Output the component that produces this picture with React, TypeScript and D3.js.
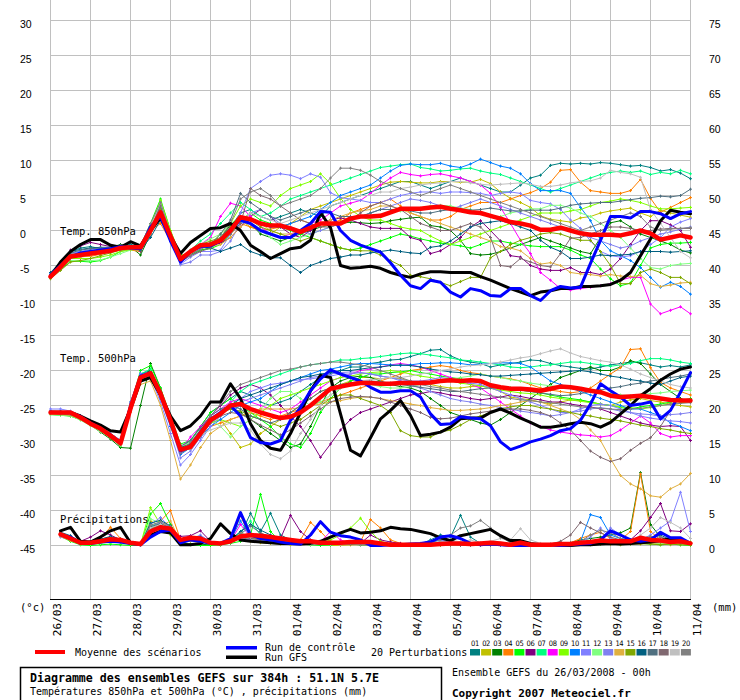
import { useEffect, useRef } from 'react';
import * as d3 from 'd3';

const W = 740;
const H = 700;

const DATES = ['26/03', '27/03', '28/03', '29/03', '30/03', '31/03', '01/04', '02/04', '03/04',
  '04/04', '05/04', '06/04', '07/04', '08/04', '09/04', '10/04', '11/04'];
const LEFT_TICKS = [30, 25, 20, 15, 10, 5, 0, -5, -10, -15, -20, -25, -30, -35, -40, -45];
const RIGHT_TICKS = [75, 70, 65, 60, 55, 50, 45, 40, 35, 30, 25, 20, 15, 10, 5, 0];
const MEMBER_LABELS = ['01', '02', '03', '04', '05', '06', '07', '08', '09', '10',
  '11', '12', '13', '14', '15', '16', '17', '18', '19', '20'];
const MEMBER_COLORS = ['#008080', '#c0c000', '#008000', '#ff8000', '#00ff00', '#800080', '#00ff80',
  '#ff00ff', '#80ff00', '#0080ff', '#8080ff', '#80ff80', '#8080f0', '#e0b040', '#80a800',
  '#006080', '#507080', '#806870', '#c0c0c0', '#808080'];

// ---- Temp 850 hPa, 6-hourly from 0h ----
const T850_MEAN = [-6.6, -5.2, -3.7, -3.5, -3.3, -3.1, -2.9, -2.5,
  -2.4, -2.4, 0, 2.6, -0.8, -4.1, -3.0, -2.1,
  -2.0, -1.4, 0, 1.9, 1.6, 1.0, 0.7, 0.7,
  0.3, -0.2, 0.4, 1.0, 1.0, 1.0, 1.7, 2.0,
  2.0, 2.1, 2.6, 3.1, 3.1, 3.1, 3.3, 3.4,
  3.1, 2.9, 2.6, 2.5, 2.1, 1.7, 1.2, 1.0,
  0.7, 0.1, 0.1, 0.4, 0, -0.4, -0.6, -0.6,
  -0.6, -0.7, -0.4, 0, -0.4, -1.3, -1.0, -0.7, -1.0];
const T850_CTRL = [-6.4, -5.0, -3.8, -3.2, -3.0, -2.8, -2.6, -2.3,
  -2.5, -2.6, 0.5, 2.0, -1.5, -4.5, -3.0, -2.3,
  -2.2, -1.5, 0.2, 1.5, 1.0, 0, -0.5, -1.0,
  -1.0, 0, 1.0, 2.7, 2.6, 0, -1.4, -2.1,
  -2.6, -3.1, -4.6, -6.4, -7.9, -8.3, -7.1, -7.4,
  -8.8, -9.5, -8.3, -8.6, -9.3, -9.4, -8.3, -8.3,
  -9.3, -10, -8.6, -8.0, -8.2, -8.1, -4.7, -1.4,
  2.0, 2.0, 1.8, 2.7, 2.7, 2.4, 1.7, 2.4, 2.7];
const T850_GFS = [-6.6, -4.5, -3.0, -2.0, -1.3, -1.3, -2.1, -2.4,
  -1.6, -2.2, 0, 1.8, -0.8, -3.3, -1.7, -0.7,
  0.3, 0.4, 1.0, 0, -2.1, -3.0, -4.0, -3.3,
  -2.6, -2.4, -1.4, 2.6, 0.4, -5.0, -5.4, -5.3,
  -5.1, -5.4, -6.0, -6.4, -6.7, -6.2, -5.9, -5.9,
  -6.0, -6.0, -6.0, -6.6, -7.1, -7.7, -8.3, -8.8,
  -9.3, -8.8, -8.6, -8.3, -8.3, -8.0, -8.0, -7.9,
  -7.7, -7.1, -6.0, -3.6, -1.2, 1.4, 2.9, 2.6, 2.4];
const T850_P01 = [-6.3, -4.8, -3.0, -2.5, -2.3, -2.6, -2.7, -2.2,
  -2.0, -2.3, 0.5, 3.0, -0.5, -3.8, -3.2, -2.2,
  -1.8, -1.0, 0.5, 2.5, 3.0, 2.0, 1.5, 2.0,
  2.5, 3.0, 2.5, 2.0, 3.5, 4.0, 4.5, 5.0,
  5.5, 6.0, 6.5, 7.0, 7.0, 6.5, 6.0, 6.5,
  7.0, 7.5, 7.0, 6.5, 6.0, 5.5, 5.5, 6.5,
  7.5, 7.9, 9.3, 9.6, 9.5, 9.6, 9.5, 9.7,
  9.6, 9.4, 9.2, 9.3, 9.0, 8.5, 8.7, 8.2, 7.4];
const T850_P02 = [-6.5, -5.0, -3.6, -3.6, -3.5, -3.2, -3.0, -2.6,
  -2.6, -2.8, 0.5, 3.5, -0.3, -4.3, -3.3, -2.4,
  -2.5, -1.5, 0, 1.5, 0.5, 0, -0.5, 0.5,
  1.0, 2.0, 3.0, 3.5, 4.0, 4.5, 5.0, 5.5,
  6.0, 6.5, 6.9, 7.0, 6.9, 6.8, 6.8, 7.0,
  7.0, 6.9, 6.9, 7.3, 6.7, 5.5, 4.6, 4.0,
  3.3, 2.1, 1.6, 1.4, 1.2, 1.8, 2.0, 2.5,
  2.8, 3.0, 3.2, 2.5, 2.0, 2.9, 2.5, 2.2, 1.9];
const T850_P03 = [-6.8, -5.5, -4.0, -3.6, -3.2, -2.8, -2.4, -2.0,
  -2.3, -3.5, -0.5, 2.0, -1.5, -4.0, -3.6, -2.8,
  -2.5, -1.0, 0.8, 2.0, 1.0, -0.5, -1.0, -1.5,
  -1.0, -0.5, 0, 0.5, 0.8, 1.0, 1.2, 1.1,
  1.0, 1.1, 1.4, 1.6, 1.8, 1.9, 0.7, 0.5,
  0, -1.4, -3.3, -3.5, -3.4, -3.0, -2.5, -2.0,
  -1.5, -1.0, -1.5, -2.0, -2.5, -3.0, -3.3, -1.0,
  1.1, 1.4, 0.5, -0.5, -1.0, -1.5, -2.0, -2.8, -3.2];
const T850_P04 = [-6.6, -5.3, -3.8, -3.7, -3.7, -3.4, -3.0, -2.8,
  -2.8, -3.0, 0, 1.0, -1.5, -4.5, -3.5, -2.3,
  -2.0, -1.8, -0.5, 1.0, 0.5, 0, 0.2, 0.5,
  1.0, 1.5, 1.0, 0.5, 1.0, 1.5, 2.5, 3.0,
  3.5, 4.0, 4.5, 3.5, 2.5, 2.0, 1.5, 1.5,
  2.0, 3.0, 3.5, 4.0, 4.0, 4.0, 4.5, 5.0,
  5.4, 6.0, 6.9, 8.6, 8.7, 6.9, 5.7, 5.5,
  5.3, 5.3, 5.7, 7.3, 4.6, 2.6, 3.3, 4.0, 4.7];
const T850_P05 = [-6.7, -5.6, -4.4, -4.4, -4.5, -4.3, -3.8, -3.0,
  -2.6, -2.2, 1.0, 4.5, 0, -4.0, -3.4, -2.8,
  -2.6, -2.0, -0.5, 1.5, 2.5, 1.5, 1.0, 0.5,
  0, -0.5, -1.0, -1.5, -2.0, -2.5, -2.8, -2.5,
  -2.0, -1.5, -1.0, -0.5, -0.8, -1.2, -1.5, -1.8,
  -2.0, -2.2, -2.5, -2.0, -1.5, -1.5, -1.8, -2.0,
  -2.2, -2.3, -2.3, -2.3, -2.8, -3.5, -4.0, -5.5,
  -6.9, -7.9, -7.5, -5.0, -2.5, -2.0, -1.8, -1.8, -1.7];
const T850_P06 = [-6.4, -4.6, -2.8, -2.2, -1.7, -2.0, -2.3, -2.2,
  -2.5, -3.0, -0.5, 2.5, -1.0, -4.5, -3.0, -2.5,
  -2.2, -1.8, -1.0, 0.5, 2.0, 3.0, 2.0, 0.5,
  -0.5, -1.0, 0, 1.0, 1.5, 1.8, 1.5, 1.0,
  0.5, 0.3, 0.3, 0.3, -1.0, -1.4, -3.3, -2.9,
  -2.0, -1.0, 0.5, 1.4, 0, -1.5, -3.6, -3.8,
  -5.0, -5.5, -5.7, -5.7, -5.3, -6.0, -6.0, -6.3,
  -5.5, -4.0, -2.0, 0, 1.4, 1.4, 0.8, 0, -2.4];
const T850_P07 = [-6.5, -5.0, -3.5, -3.3, -3.0, -3.0, -2.8, -2.5,
  -2.2, -2.0, 0.5, 4.0, -0.5, -3.8, -2.8, -1.5,
  -0.5, 1.0, 2.5, 4.0, 3.0, 2.0, 2.5, 3.5,
  4.5, 5.0, 5.5, 6.0, 6.5, 7.0, 7.5, 8.0,
  8.5, 9.0, 9.2, 9.4, 9.5, 9.0, 8.8, 8.5,
  8.6, 8.8, 8.9, 8.5, 8.2, 8.0, 7.5, 7.0,
  6.5, 6.0, 5.5, 6.0, 6.5, 7.0, 7.5, 8.0,
  8.3, 8.5, 8.3, 8.5, 8.0, 8.3, 8.1, 8.6, 8.1];
const T850_P08 = [-6.6, -5.2, -3.8, -3.5, -3.2, -3.0, -3.0, -2.7,
  -2.6, -2.5, 0, 2.5, -1.0, -4.0, -3.0, -2.0,
  -1.0, 2.0, 3.9, 3.5, 2.0, 0.5, -0.5, -1.0,
  -0.5, 0, 1.0, 1.5, 2.5, 3.5, 3.9, 4.3,
  5.3, 6.5, 7.5, 8.3, 8.0, 7.8, 8.0, 8.1,
  7.8, 7.5, 7.0, 6.5, 5.3, 3.3, 1.0, -1.4,
  -3.3, -6.0, -7.1, -8.3, -8.5, -8.3, -8.1, -7.9,
  -7.6, -7.1, -6.7, -6.7, -10.5, -11.9, -11.4, -10.9, -11.9];
const T850_P09 = [-6.7, -5.4, -4.0, -4.0, -4.0, -3.8, -3.5, -3.0,
  -2.8, -2.6, 0.5, 4.3, 0, -3.5, -3.3, -2.5,
  -2.0, -0.5, 1.0, 3.5, 4.5, 4.0, 3.5, 5.0,
  6.0, 6.5, 7.0, 8.1, 6.7, 4.6, 3.0, 2.0,
  1.5, 1.5, 1.0, 0.5, 0.2, 0, -0.8, -1.5,
  -2.0, -1.5, -1.0, -0.5, 0, 0.5, 1.0, 1.5,
  2.0, 2.5, 2.5, 2.5, 2.8, 3.0, 3.5, 4.0,
  4.2, 4.5, 4.3, 4.0, 3.5, 3.1, 3.1, 3.2, 3.3];
const T850_P10 = [-6.2, -4.7, -3.2, -3.0, -2.9, -2.8, -2.7, -2.5,
  -2.2, -2.0, 0.5, 3.0, -1.0, -4.6, -3.2, -2.3,
  -1.8, -1.2, 0, 1.0, 1.5, 1.0, 0.5, 0.5,
  1.0, 1.5, 2.0, 3.0, 4.0, 5.0, 5.5, 6.0,
  6.5, 7.5, 8.5, 9.3, 9.5, 9.4, 9.4, 9.6,
  9.2, 9.0, 9.5, 10.2, 9.7, 9.2, 8.9, 8.1,
  6.7, 5.7, 5.7, 5.7, 5.3, 3.3, 1.4, -1.4,
  -2.9, -3.6, -4.3, -5.3, -6.7, -8.1, -7.4, -8.0, -9.1];
const T850_P11 = [-6.4, -4.9, -3.3, -3.0, -2.7, -2.6, -2.6, -2.3,
  -2.4, -2.7, 0.5, 3.5, -0.5, -4.8, -3.8, -3.0,
  -3.0, -2.8, -0.5, 2.5, 6.0, 7.0, 7.9, 8.1,
  7.9, 7.4, 8.1, 7.6, 5.4, 4.7, 4.5, 4.3,
  4.0, 4.0, 4.5, 5.0, 5.3, 5.5, 5.5, 5.3,
  5.5, 5.5, 5.4, 5.3, 5.0, 5.3, 5.5, 5.3,
  4.3, 4.0, 3.8, 3.0, 1.5, 0.3, -1.5, -3.0,
  -3.6, -3.8, -3.6, -3.0, -2.0, -1.0, 0.5, 1.2, 1.7];
const T850_P12 = [-6.6, -5.4, -4.3, -4.3, -4.3, -4.2, -3.8, -3.3,
  -2.8, -2.5, 0, 3.5, -0.5, -4.2, -3.2, -2.0,
  -1.2, -0.5, 1.0, 2.0, 1.0, 0, -1.0, -2.0,
  -1.5, -1.0, -0.5, 0, 0.5, 1.0, 1.5, 2.0,
  2.5, 3.0, 3.0, 2.8, 3.0, 3.2, 3.5, 3.6,
  3.5, 3.2, 3.0, 2.5, 2.0, 2.0, 2.5, 2.8,
  3.1, 3.1, 3.6, 3.6, 3.2, 2.5, 2.0, 1.0,
  0, -1.0, -2.5, -4.0, -5.3, -5.5, -5.0, -4.8, -4.7];
const T850_P13 = [-6.5, -5.1, -3.6, -3.3, -3.0, -3.0, -2.9, -2.8,
  -2.6, -2.5, 0, 3.0, -0.8, -4.9, -4.5, -3.5,
  -3.5, -3.0, -1.5, 1.0, 2.5, 3.0, 2.0, 1.0,
  0.5, 0, -0.5, 0, 0.5, 1.0, 1.5, 2.0,
  2.5, 3.0, 3.5, 4.0, 4.5, 4.3, 4.0, 3.5,
  3.0, 3.5, 4.0, 4.5, 4.0, 3.5, 3.0, 2.5,
  2.0, 1.5, 1.0, 0.5, 0, -0.5, -1.0, -1.5,
  -2.0, -2.5, -2.2, -1.5, -1.0, -0.5, -0.2, 0.2, 0.5];
const T850_P14 = [-6.7, -5.3, -3.8, -3.8, -3.6, -3.3, -3.0, -2.8,
  -2.7, -2.9, -0.5, 2.0, -1.5, -4.2, -3.2, -2.5,
  -2.3, -2.0, -1.0, 0.5, 1.5, 1.0, 0, -0.5,
  -0.5, 0, 0.5, 1.0, 1.5, 2.0, 2.5, 2.8,
  3.0, 3.5, 3.5, 3.0, 2.5, 2.0, 1.5, 1.0,
  0.5, 0, -0.5, -1.0, -1.5, -2.3, -2.5, -2.9,
  -4.0, -4.8, -4.6, -5.0, -6.0, -6.2, -6.3, -6.5,
  -6.3, -6.5, -6.6, -6.4, -7.6, -8.0, -7.8, -7.5, -7.4];
const T850_P15 = [-6.9, -5.7, -4.5, -4.3, -4.0, -3.6, -3.2, -2.8,
  -2.6, -2.8, 0.5, 3.0, -1.0, -4.0, -3.0, -2.0,
  -1.5, -1.0, 0.5, 2.0, 1.5, 0.5, 0, -0.5,
  -1.0, -1.5, -1.0, -1.5, -2.0, -2.5, -2.8, -2.9,
  -2.9, -3.5, -4.3, -5.0, -6.4, -6.6, -6.9, -7.4,
  -7.9, -7.3, -6.7, -6.7, -3.9, -3.0, -2.0, -1.4,
  -1.0, -0.5, -0.3, -0.5, -1.0, -1.4, -1.4, -3.0,
  -5.0, -7.6, -7.6, -6.0, -5.5, -6.0, -6.7, -6.7, -7.6];
const T850_P16 = [-6.0, -4.5, -3.0, -2.7, -2.5, -2.4, -2.4, -2.3,
  -2.4, -2.8, -1.0, 1.5, -1.5, -4.3, -3.0, -2.3,
  -2.5, -3.0, -2.5, -2.0, -3.0, -3.5, -3.9, -3.9,
  -5.0, -6.0, -5.0, -4.5, -4.0, -3.8, -3.5, -3.5,
  -3.2, -3.0, -2.8, -3.0, -3.2, -3.3, -2.4, -2.2,
  -1.5, -0.5, 0.5, 1.0, 1.2, 1.4, 1.0, 0.5,
  0, -1.4, -2.4, -3.0, -4.0, -4.0, -3.8, -3.5,
  -3.6, -3.5, -3.4, -3.0, -3.0, -3.0, -3.1, -3.0, -2.9];
const T850_P17 = [-6.4, -4.8, -3.2, -2.8, -2.6, -2.5, -2.4, -2.1,
  -2.2, -2.5, 0.3, 3.5, -0.5, -4.4, -3.4, -2.6,
  -2.0, -0.5, 1.5, 5.3, 4.0, 3.0, 2.0, 1.5,
  2.0, 2.5, 3.0, 3.0, 2.5, 2.0, 2.0, 2.0,
  2.5, 3.0, 3.0, 3.0, 2.8, 2.5, 2.5, 2.8,
  3.0, 3.0, 2.9, 3.0, 3.2, 3.0, 2.8, 2.8,
  2.9, 2.9, 2.9, 3.2, 3.6, 3.8, 3.9, 4.0,
  4.0, 4.2, 4.4, 4.6, 4.7, 4.9, 4.8, 5.0, 5.9];
const T850_P18 = [-6.5, -5.0, -3.5, -3.4, -3.3, -3.1, -3.0, -2.7,
  -2.5, -2.3, 0.5, 3.5, -1.0, -4.2, -3.6, -3.0,
  -2.5, -1.5, -0.5, 1.0, 6.0, 5.0, 4.5, 3.5,
  2.5, 1.5, 1.0, 0.5, 0.5, 1.0, 1.5, 2.5,
  3.5, 4.0, 3.5, 3.0, 2.0, 1.0, 0.5, 0,
  0, 0.5, 1.0, 0.5, -1.0, -5.0, -5.2, -4.0,
  -4.5, -5.0, -5.2, -3.3, -1.1, -1.0, -0.5, 0,
  0.5, 0.5, 0.3, 0, 0, 0.2, 0.3, 0.3, 0.3];
const T850_P19 = [-6.6, -5.2, -3.6, -3.3, -3.0, -2.9, -2.7, -2.5,
  -2.4, -2.6, 0.5, 4.0, -0.5, -4.0, -3.3, -2.5,
  -2.0, -1.0, 0, 1.5, 2.5, 2.0, 1.5, 1.0,
  1.5, 2.0, 2.5, 3.0, 3.5, 4.0, 4.5, 5.0,
  5.0, 5.5, 5.5, 6.0, 6.2, 6.5, 6.7, 6.8,
  7.0, 7.0, 6.8, 6.6, 6.5, 6.6, 6.7, 6.8,
  6.6, 6.3, 6.3, 6.5, 6.8, 7.0, 7.1, 7.5,
  8.6, 8.3, 8.1, 7.6, 3.0, 1.0, -1.0, -3.0, -3.9];
const T850_P20 = [-6.4, -4.9, -3.4, -3.2, -3.0, -2.8, -2.6, -2.4,
  -2.3, -2.2, 1.0, 4.0, -0.5, -4.5, -3.6, -2.7,
  -2.0, -1.0, 1.0, 4.5, 5.5, 6.0, 5.0, 3.5,
  4.0, 4.5, 5.0, 6.0, 7.5, 8.9, 8.9, 8.6,
  7.9, 7.0, 6.5, 6.0, 5.5, 5.0, 5.5, 6.0,
  6.5, 6.0, 5.5, 5.0, 4.5, 4.0, 3.5, 3.0,
  2.5, 2.0, 1.5, 1.0, 0.5, 0, 0.5, 1.0,
  1.5, 2.0, 2.5, 2.0, 0.5, 0, 0.2, 0.3, 0.4];

// ---- Temp 500 hPa, 6-hourly from 0h ----
const T500_MEAN = [-26, -26, -26, -26.7, -27.6, -28.3, -29.3, -30.4,
  -25.4, -21, -20.4, -23.3, -27.1, -31.3, -30.9, -29,
  -27.1, -26.2, -25, -24.8, -25.5, -26, -26.4, -26.8,
  -26.6, -26, -25, -23.8, -22.6, -22.3, -22, -21.8,
  -21.8, -21.9, -21.9, -21.8, -21.8, -21.8, -21.7, -21.5,
  -21.4, -21.5, -21.4, -21.5, -22.1, -22.4, -22.6, -22.6,
  -22.7, -22.9, -22.6, -22.3, -22.4, -22.6, -22.9, -23.1,
  -23.6, -23.8, -23.7, -23.6, -23.8, -24, -24.2, -24.3, -24.3];
const T500_CTRL = [-26, -26, -26, -26.6, -27.5, -28.3, -29.3, -30.3,
  -25.2, -20.8, -20.3, -23.3, -27.3, -31.5, -30.8, -28.8,
  -27, -26, -25, -26.5, -29.6, -30.3, -30.5, -30,
  -27.1, -25.3, -22.9, -21.2, -19.9, -20.5, -21, -21.5,
  -22.4, -23.1, -23.1, -22.9, -22.9, -23.8, -26.2, -27.7,
  -27.6, -26.6, -26.8, -26.9, -27.9, -30.2, -31.3, -30.8,
  -30.2, -29.8, -29.3, -28.6, -28.3, -27.1, -24.8, -21.9,
  -22.9, -23.8, -25, -24.8, -24.5, -26.9, -25.7, -23.1, -20.3];
const T500_GFS = [-26, -26, -26, -26.5, -27.2, -27.8, -28.6, -28.8,
  -25.5, -21.5, -21, -23.5, -26.5, -28.6, -27.9, -26.5,
  -24.5, -24.5, -21.9, -24, -27.6, -30, -31.1, -31.4,
  -29, -26, -22.9, -20.7, -21, -26.2, -31.4, -32.2,
  -29.6, -26.9, -25.7, -24.3, -26.4, -29.3, -29.1, -28.8,
  -28.1, -26.9, -26.8, -26.8, -26, -25.5, -26.1, -26.8,
  -27.4, -28.1, -28.1, -27.9, -27.6, -27.4, -27.6, -28.1,
  -27.4, -26.2, -25, -23.6, -22.6, -21.4, -20.5, -19.8, -19.5];
const T500_P01 = [-25.8, -25.8, -26, -26.5, -27.3, -28, -29, -30,
  -24.5, -20.5, -20, -23, -27.5, -31, -30, -28,
  -26, -25, -24, -23, -23.5, -24.5, -25, -24.5,
  -24, -23, -22, -21, -20.5, -20, -19.5, -19.5,
  -19, -18.8, -18.5, -18.4, -18, -17.6, -17.1, -17,
  -17.9, -18.5, -18.8, -19, -19.5, -19.2, -19, -18.8,
  -18.5, -18.6, -19, -19.3, -19.5, -19.7, -19.8, -19.5,
  -19.2, -19, -18.8, -18.9, -19.2, -19.5, -19.3, -19.5, -19.2];
const T500_P02 = [-26, -26.1, -26.2, -26.8, -27.5, -28.3, -29.2, -30.3,
  -25, -20.8, -20.5, -23.5, -27.5, -31.5, -31.2, -29.5,
  -27.5, -27, -29, -31, -30.5, -29, -28, -27,
  -26, -25, -24, -23, -22.5, -22, -21.5, -21,
  -21, -21.2, -21, -21.2, -21.5, -21.8, -22, -22.3,
  -22.5, -22.5, -22.3, -22.2, -22.5, -23, -23.8, -24,
  -24.2, -24.5, -24.8, -24.5, -24.2, -24.3, -24.5, -24.8,
  -25, -24.5, -24.2, -24, -24.3, -24.5, -24.8, -25, -25.2];
const T500_P03 = [-26.2, -26.3, -26.5, -27, -27.8, -28.8, -29.8, -31,
  -31.1, -25, -19, -22.5, -27, -31, -30.5, -29,
  -27, -26, -25.5, -26, -27, -28, -29, -30,
  -31, -30.5, -28, -25, -22.5, -21.5, -21, -20.8,
  -21, -21.5, -22, -22.3, -22.5, -23, -24, -25,
  -26, -26.5, -27, -27.5, -27.8, -27, -26, -25,
  -24, -23, -22, -21, -20.5, -20, -19.5, -20,
  -20, -19.5, -18.6, -19, -20.5, -22, -23, -24, -24.5];
const T500_P04 = [-26, -26, -26.2, -26.8, -27.6, -28.4, -29.4, -30.5,
  -25.5, -21.5, -21, -23.5, -27.3, -31.8, -31, -29.5,
  -28, -27.5, -27, -26.5, -26, -26.5, -27, -26.5,
  -26, -25.5, -25, -24.5, -24, -23.5, -23, -22.5,
  -22, -21.5, -21, -20.5, -20, -19.8, -19.5, -19.3,
  -19.5, -20, -20.3, -20.5, -20.8, -21, -21.2, -21.5,
  -22, -22.5, -22.8, -23, -23.2, -23, -22.5, -21.5,
  -20.5, -19.6, -17, -16.9, -19.6, -21.7, -22.5, -23, -23.5];
const T500_P05 = [-26.3, -26.4, -26.5, -27, -27.8, -28.5, -29.5, -30.8,
  -25, -20, -19.3, -22.5, -26.5, -30.5, -30, -28,
  -26, -25, -24, -25, -26, -27, -28, -29.5,
  -30.5, -31, -29, -26, -24, -22.5, -21.5, -21,
  -20.5, -20.5, -20.3, -20.2, -20, -20.3, -20.5, -20.8,
  -21, -21.2, -21.5, -21.8, -22, -22.3, -22.5, -22.8,
  -23, -23.2, -23.5, -23.8, -24, -24.2, -24.5, -24.8,
  -25, -25.3, -25.5, -25.2, -25, -24.8, -24.5, -24.3, -24];
const T500_P06 = [-25.8, -25.9, -26, -26.6, -27.3, -28, -29, -30,
  -24.8, -20.8, -20.6, -23.2, -27, -31.2, -30.5, -28.5,
  -26.5, -25, -23.5, -22.5, -22, -22.5, -23.5, -25,
  -26.5, -28, -30, -32.4, -30.5, -28.5, -27, -26,
  -25.5, -25, -24.5, -24, -23.5, -23.3, -23, -23.2,
  -23.5, -23.7, -24, -24.2, -24, -23.8, -23.5, -23.7,
  -24, -24.2, -24.5, -24.5, -24.8, -25, -25.2, -25.5,
  -26, -26.5, -27, -27.5, -27.8, -28, -27.9, -28, -30];
const T500_P07 = [-26, -26, -26.1, -26.7, -27.5, -28.2, -29.2, -30.2,
  -25, -20.5, -19.8, -23, -27, -31, -30.5, -29,
  -27, -26, -24.5, -23, -22, -21.5, -21, -20.5,
  -20, -19.5, -19.2, -19, -18.8, -18.5, -18.5, -18.3,
  -18.2, -18, -17.8, -17.6, -17.5, -17.6, -17.8, -18,
  -18.2, -18.5, -18.6, -18.8, -19, -19.2, -19.5, -19.6,
  -19.5, -19.3, -19.2, -19, -18.8, -18.8, -19, -19.2,
  -19.4, -19.2, -19, -18.6, -18.3, -18.3, -18.5, -18.8, -19];
const T500_P08 = [-26.1, -26.1, -26.2, -26.9, -27.7, -28.4, -29.4, -30.4,
  -25.2, -21, -20.5, -23.5, -27.3, -31.3, -29.5, -28,
  -26.5, -25.5, -24.5, -24, -24.5, -25, -25.5, -26,
  -25.5, -24.5, -23.5, -22.5, -21.5, -21, -20.5, -20,
  -19.8, -19.5, -19.2, -19, -19.2, -19.5, -20, -20.5,
  -21, -21.5, -22, -22.5, -23.5, -24.5, -25.5, -26.5,
  -27.5, -28, -28.5, -28.8, -29, -29.2, -29.3, -29.5,
  -29.3, -28.5, -27.5, -26.5, -27.5, -29, -29.5, -29.3, -29.3];
const T500_P09 = [-26.2, -26.2, -26.3, -26.9, -27.8, -28.6, -29.6, -30.6,
  -25.5, -21, -20.2, -23, -26.8, -31, -30.5, -29,
  -27.5, -27, -27.5, -28, -27, -26, -25, -24,
  -23.5, -23, -22.5, -22, -21.5, -21, -20.8, -20.5,
  -20.3, -20.2, -20, -20.2, -20.5, -20.8, -21, -21.3,
  -21.5, -21.8, -22, -22.2, -22.5, -22.8, -23, -23.2,
  -23.3, -23.5, -23.8, -24, -24.2, -24.4, -24.6, -24.8,
  -25, -25.2, -25.3, -25.5, -25.3, -25, -24.8, -24.6, -24.5];
const T500_P10 = [-25.9, -26, -26.1, -26.6, -27.4, -28.1, -29.1, -30.2,
  -24.8, -20.4, -20.8, -24, -28, -32, -31, -29.5,
  -28, -27, -26, -25, -24.5, -24, -23, -22,
  -21.5, -21, -20.5, -20, -19.8, -19.5, -19.2, -19,
  -19, -19.1, -19.2, -19.3, -19.2, -19, -19, -18.9,
  -18.9, -19, -19.2, -19.1, -19, -18.9, -18.9, -19,
  -19.5, -20.5, -21.5, -22, -22.5, -23, -23.5, -24,
  -24.5, -25, -25.5, -25.5, -26, -26.5, -27.5, -28, -28.6];
const T500_P11 = [-25.5, -25.5, -25.8, -26.5, -27.3, -28, -29, -30,
  -24.5, -20.5, -21, -24.5, -29, -33.5, -32, -30,
  -28, -26.5, -25, -24, -23, -22.5, -22, -21.8,
  -21.5, -21.3, -21.2, -21, -20.8, -20.5, -20.5, -20.3,
  -20.5, -20.8, -21, -21.3, -21.5, -21.5, -21.3, -21,
  -21.2, -21.5, -21.8, -22, -22.5, -23, -23.5, -24,
  -24.5, -25, -25.5, -26, -26, -25.5, -25, -24.8,
  -25, -25.5, -26, -26.5, -26.8, -27, -27.2, -27.3, -27.5];
const T500_P12 = [-26.3, -26.4, -26.5, -27.1, -27.9, -28.7, -29.6, -30.7,
  -25.8, -21.5, -21, -23.8, -27.5, -31, -30.2, -28.5,
  -27, -28, -29.5, -28, -27, -25.5, -24, -23,
  -23, -24, -25, -24.5, -23.5, -22.5, -22, -21.8,
  -22, -22.3, -22.5, -22.5, -22.3, -22, -21.8, -21.5,
  -21.3, -21, -20.8, -20.5, -20.8, -21, -21.3, -21.5,
  -21.8, -22, -22.2, -22.3, -22.5, -22.8, -23, -23.2,
  -23.3, -23.5, -23.6, -23.5, -23.3, -23.2, -23, -22.9, -22.8];
const T500_P13 = [-26, -26.1, -26.2, -26.8, -27.6, -28.4, -29.4, -30.4,
  -25.5, -21.3, -20.8, -23.6, -27.8, -32.5, -31.5, -29.5,
  -27.5, -26, -25, -24.5, -24, -23.5, -23, -22.5,
  -22, -21.5, -21, -20.8, -20.5, -20.3, -20.2, -20.3,
  -20.5, -20.8, -21, -21.5, -22, -22.5, -23, -23.5,
  -24, -24.3, -24.5, -24.8, -25, -25.3, -25.5, -25.8,
  -26, -26.2, -26.5, -26.3, -26, -25.8, -25.5, -25.3,
  -25.5, -25.8, -26, -26.2, -26.3, -26.5, -26.3, -26.2, -26];
const T500_P14 = [-26.2, -26.3, -26.4, -27, -27.8, -28.6, -29.6, -30.6,
  -26, -22, -21.5, -25, -30, -35.5, -33.5, -31,
  -29, -28, -27, -26.5, -26, -25.5, -25.5, -25.5,
  -25.5, -25.3, -25, -24.8, -24.5, -24.3, -24, -23.8,
  -23.8, -24, -24.3, -24.5, -24.8, -25, -25.3, -25.5,
  -25.7, -25.7, -25.6, -25.5, -25.3, -25, -24.8, -24.5,
  -24.3, -24.5, -25, -25.5, -26, -27, -28.5, -30,
  -32.6, -35, -36.2, -36.9, -37.9, -38.1, -36.9, -36.2, -34.7];
const T500_P15 = [-26.1, -26.2, -26.3, -26.8, -27.7, -28.5, -29.5, -30.5,
  -25.3, -21, -20.5, -23.3, -27.2, -31.2, -30.8, -29,
  -27, -26, -25.5, -25.8, -26.5, -27, -27.5, -28,
  -27.5, -27, -26, -25, -24, -23.5, -23.5, -24,
  -24.5, -25, -26, -28.6, -29.3, -29.5, -29.5, -28.8,
  -28.5, -27.8, -27, -26.5, -26, -25.5, -25.2, -25,
  -25, -25.3, -25.5, -25.8, -26, -26.3, -26.5, -26.8,
  -27, -27.2, -27.5, -27.8, -28, -28.3, -28.5, -28.8, -29];
const T500_P16 = [-25.9, -25.9, -26, -26.6, -27.4, -28.2, -29.2, -30.3,
  -25, -20.8, -20.3, -23, -27, -31, -30.5, -28.8,
  -27, -26, -25, -24, -23.5, -23, -22.5, -22,
  -21.5, -21, -20.8, -20.5, -20.3, -20, -20, -19.8,
  -19.6, -19.5, -19.3, -19.2, -19.3, -19.5, -19.8, -20,
  -20.2, -20.3, -20.5, -20.6, -20.8, -20.8, -20.7, -20.6,
  -20.5, -20.4, -20.3, -20.2, -20.1, -20, -20.2, -20.5,
  -20.8, -21, -21.3, -21.5, -21.8, -22, -21.5, -21, -20.8];
const T500_P17 = [-26, -26, -26.1, -26.7, -27.5, -28.3, -29.3, -30.3,
  -25.2, -21, -20.5, -23.3, -27.2, -30.8, -30, -28.2,
  -26.5, -25.5, -25, -25.5, -26.5, -27, -27.5, -27,
  -26, -25, -24, -23, -22.5, -22, -21.8, -21.5,
  -21.5, -21.6, -21.8, -22, -22.2, -22.4, -22.6, -22.8,
  -23, -23, -22.8, -22.6, -22.5, -22.5, -22.6, -22.8,
  -23, -23.2, -23.4, -23.6, -23.5, -23.3, -23, -22.8,
  -22.5, -22.3, -22, -21.8, -21.5, -21.3, -21, -20.8, -20.5];
const T500_P18 = [-26.1, -26.2, -26.3, -26.9, -27.7, -28.5, -29.5, -30.6,
  -25.6, -21.5, -21, -23.8, -27.5, -31.8, -31, -29.3,
  -27.5, -26.5, -26, -26.2, -27, -27.8, -28.5, -29.2,
  -28.5, -27.5, -26.5, -25.5, -24.5, -24, -23.8, -23.7,
  -23.8, -24, -24.5, -25, -25.5, -26, -26.7, -26.9,
  -26.8, -26.5, -26.2, -26, -25.8, -25.6, -25.5, -25.5,
  -25.7, -26, -26.5, -27.5, -28.5, -30, -31.5, -32.4,
  -33, -32.6, -31.4, -30.4, -29.6, -28, -25.7, -23, -20.4];
const T500_P19 = [-26, -26, -26.2, -26.8, -27.6, -28.4, -29.3, -30.4,
  -25.4, -21.2, -20.7, -23.4, -27.5, -31.6, -30.8, -29.2,
  -28.5, -28, -27.5, -27.5, -28.5, -30.5, -32, -32.6,
  -31.5, -29, -27, -25, -23.5, -22.5, -22, -21.5,
  -21.3, -21.2, -21, -21, -20.8, -20.5, -20.3, -20,
  -19.8, -19.5, -19.3, -19.2, -19, -18.8, -18.5, -18.2,
  -18, -17.6, -17.2, -16.9, -17.5, -18, -18.3, -18.6,
  -18.8, -19.2, -19.8, -20.5, -21, -21.5, -22, -22.3, -22.5];
const T500_P20 = [-26, -26.1, -26.2, -26.8, -27.6, -28.5, -29.5, -30.5,
  -25.6, -21.3, -20.8, -23.5, -27.3, -31.3, -30.3, -28.5,
  -26.5, -24.8, -23, -22, -21.5, -21, -20.5, -20,
  -19.8, -19.5, -19.2, -19, -18.8, -18.8, -19, -19.2,
  -19.5, -20, -20.5, -21, -21.5, -22, -22.3, -22.5,
  -22.8, -23, -23.2, -23.4, -23.6, -23.8, -24, -24.2,
  -24.3, -24.5, -24.6, -24.8, -25, -25.2, -25.3, -25.4,
  -25.5, -25.6, -25.5, -25.4, -25.2, -25, -24.8, -24.7, -24.6];

// ---- Precipitation (mm / 6h), 6-hourly from 6h ----
const PR_MEAN = [1.6, 1.0, 0.4, 0.4, 0.6, 0.9, 0.8, 0.4,
  0.2, 2.0, 2.6, 2.4, 0.8, 1.1, 1.0, 0.4,
  0.3, 0.6, 1.3, 1.5, 1.4, 1.2, 1.0, 0.8,
  0.6, 0.6, 0.4, 0.4, 0.4, 0.5, 0.5, 0.5,
  0.3, 0.1, 0.1, 0.1, 0.1, 0.1, 0.2, 0.3,
  0.3, 0.2, 0.3, 0.4, 0.3, 0.1, 0.4, 0.1,
  0.1, 0.1, 0.2, 0.2, 0.4, 0.5, 0.7, 0.6,
  0.6, 0.6, 1.1, 0.8, 0.7, 0.5, 0.6, 0.3];
const PR_CTRL = [1.5, 1.2, 0.3, 0.3, 0.5, 0.6, 0.5, 0.3,
  0.1, 1.2, 2.0, 2.2, 0.4, 0.8, 0.6, 0.3,
  0.3, 1.0, 4.7, 1.5, 1.0, 0.8, 0.5, 0.3,
  0.2, 1.5, 3.4, 1.9, 1.4, 1.2, 0.8, 0,
  0, 0.1, 0.1, 0.2, 0.3, 0.5, 1.2, 1.4,
  1.0, 0.3, 0.1, 0.2, 0.1, 0, 0, 0,
  0.1, 0.1, 0, 0.1, 0.2, 0.3, 0.8, 2.1,
  1.5, 0.8, 0.6, 0.8, 1.9, 1.1, 1.1, 0.3];
const PR_GFS = [2.1, 2.6, 0.6, 0.5, 1.2, 2.1, 2.6, 0.4,
  0.2, 1.5, 2.0, 1.8, 0.1, 0.1, 0.3, 1.0,
  3.1, 1.7, 0.8, 0.6, 0.5, 0.4, 0.3, 0.3,
  0.2, 0.3, 0.6, 1.2, 1.8, 2.3, 1.8, 1.9,
  2.1, 2.6, 2.4, 2.3, 2.0, 1.7, 1.1, 0.7,
  1.4, 1.7, 2.0, 2.3, 1.4, 0.7, 0.7, 0.3,
  0.1, 0.1, 0, 0, 0.1, 0.1, 0.2, 0.3,
  0.2, 0.3, 0.4, 0.5, 0.7, 1.0, 0.8, 0.3];
const PR_P01 = [1.8, 1.2, 0.4, 0.5, 0.9, 1.2, 0.8, 0.3,
  0.1, 2.5, 3.0, 2.0, 0.6, 1.0, 1.3, 0.3,
  0.2, 0.6, 1.5, 4.6, 2.0, 4.6, 1.5, 0.8,
  0.5, 0.3, 0.5, 0.2, 0.1, 0.3, 0.2, 0.1,
  0.1, 0, 0, 0.1, 0.2, 0.8, 1.5, 1.2,
  4.3, 1.2, 0.3, 0.1, 0, 0, 0, 0,
  0, 0.1, 0.2, 0.3, 0.5, 0.3, 0.4, 0.5,
  0.3, 0.2, 0.4, 0.3, 0.2, 0.5, 0.4, 0.2];
const PR_P02 = [1.5, 0.9, 0.3, 0.2, 0.4, 0.6, 0.4, 0.2,
  0, 3.5, 2.8, 2.0, 0.5, 0.8, 0.6, 0.2,
  0.1, 0.5, 1.0, 0.6, 0.4, 0.3, 0.2, 0.1,
  0.2, 0.3, 0.1, 0, 0, 0.1, 0.1, 0,
  0, 0, 0.1, 0.1, 0.2, 0.1, 0.3, 0.2,
  0.1, 0.1, 0, 0, 0, 0, 0, 0,
  0, 0, 0.1, 0.2, 0.4, 0.6, 0.3, 0.2,
  0.5, 0.6, 0.4, 0.3, 0.2, 0.1, 0.2, 0.1];
const PR_P03 = [1.4, 0.8, 0.2, 0.3, 0.5, 0.7, 0.5, 0.3,
  0, 1.5, 2.2, 3.0, 0.4, 0.2, 0.1, 0.2,
  0.1, 0.8, 1.2, 1.5, 0.8, 0.6, 0.5, 0.3,
  0.2, 0.1, 0.2, 0.3, 0.5, 0.4, 0.2, 0.1,
  0, 0, 0, 0, 0.1, 0.2, 0.3, 0.1,
  0, 0, 0.1, 0.2, 0.3, 0.1, 0, 0,
  0, 0.1, 0.2, 0.4, 0.8, 1.0, 1.2, 1.5,
  1.8, 2.5, 10.4, 3.0, 1.2, 0.5, 0.3, 0.2];
const PR_P04 = [1.6, 1.0, 0.3, 0.5, 1.1, 2.6, 1.0, 0.4,
  0.1, 2.0, 3.5, 5.0, 0.8, 0.6, 0.5, 0.3,
  0.2, 0.4, 4.3, 1.0, 0.8, 0.6, 0.5, 0.4,
  0.8, 3.3, 2.0, 0.5, 0.3, 0.2, 0.5, 3.7,
  2.5, 0.8, 0.3, 0.1, 0, 0, 0, 0.1,
  0.5, 0.3, 0.1, 0, 0, 0.1, 0.2, 0.1,
  0, 0, 0.1, 0.4, 1.0, 1.5, 1.9, 1.0,
  0.8, 2.0, 10.2, 2.0, 0.8, 0.5, 0.4, 0.3];
const PR_P05 = [1.3, 0.6, 0.1, 0, 0.1, 0.2, 0.1, 0,
  0, 4.5, 6.0, 3.0, 0.3, 0.1, 0, 0,
  0.1, 0.3, 0.6, 1.5, 7.3, 2.0, 0.5, 0.3,
  0.2, 0.1, 0, 0.1, 0.2, 0.3, 0.2, 0.5,
  0.3, 0.1, 0, 0, 0, 0, 0.1, 0.2,
  0.1, 0, 0, 0, 0, 0, 0, 0,
  0, 0, 0, 0.1, 0.2, 0.1, 0.2, 0.3,
  0.5, 0.4, 0.3, 0.2, 0.1, 0.2, 0.1, 0];
const PR_P06 = [1.5, 1.0, 0.6, 1.2, 2.1, 1.5, 0.8, 0.3,
  0.2, 2.3, 2.5, 1.8, 1.3, 1.4, 2.1, 0.6,
  0.3, 0.5, 1.2, 0.8, 0.6, 0.5, 1.0, 4.3,
  2.0, 0.8, 0.5, 0.4, 0.3, 0.2, 0.3, 1.5,
  0.8, 0.5, 0.3, 0.1, 0, 0, 0.1, 0,
  0, 0, 0, 0, 0.1, 0.2, 0, 0,
  0, 0, 0.1, 0.2, 0.3, 0.2, 0.2, 0.4,
  0.5, 0.8, 2.1, 4.0, 6.0, 2.1, 2.0, 3.1];
const PR_P07 = [1.7, 1.1, 0.4, 0.3, 0.6, 0.9, 0.6, 0.2,
  0.1, 2.8, 3.2, 2.5, 0.7, 0.9, 0.8, 0.3,
  0.2, 0.7, 2.0, 3.5, 1.5, 0.8, 0.5, 0.3,
  0.2, 0.3, 0.2, 0.1, 0.2, 0.4, 0.3, 0.2,
  0.1, 0, 0, 0, 0.1, 0.2, 0.3, 0.2,
  0.1, 0, 0, 0, 0, 0, 0, 0,
  0, 0.1, 0.2, 0.2, 0.3, 0.4, 0.6, 0.8,
  0.5, 0.3, 0.4, 0.5, 0.3, 0.4, 0.3, 0.2];
const PR_P08 = [1.6, 1.1, 0.3, 0.4, 0.8, 1.0, 0.7, 0.3,
  0.1, 2.2, 2.6, 2.3, 0.6, 1.0, 1.2, 0.5,
  0.3, 0.6, 3.0, 1.2, 1.0, 0.8, 0.6, 0.5,
  0.7, 0.6, 0.5, 2.0, 0.8, 0.3, 0.2, 0.1,
  0, 0, 0, 0.1, 0.2, 0.3, 0.4, 0.2,
  0.1, 0.1, 0, 0, 0, 0, 0, 0,
  0, 0.1, 0.2, 0.3, 0.5, 0.4, 0.3, 0.6,
  0.8, 0.5, 0.4, 0.3, 0.5, 0.6, 0.4, 0.2];
const PR_P09 = [1.8, 1.3, 0.5, 0.4, 0.7, 0.9, 0.6, 0.2,
  0.1, 5.4, 3.0, 1.5, 0.5, 0.6, 0.7, 0.2,
  0.2, 0.4, 1.0, 1.4, 1.2, 0.9, 0.6, 0.5,
  0.3, 0.2, 0.4, 0.8, 1.5, 2.5, 3.9, 2.0,
  0.6, 0.2, 0.1, 0, 0, 0, 0.1, 0.1,
  0.1, 0, 0, 0, 0, 0, 0, 0,
  0, 0, 0.1, 0.1, 0.2, 0.3, 0.2, 0.4,
  0.5, 0.3, 0.2, 0.4, 0.6, 0.5, 0.3, 0.5];
const PR_P10 = [1.4, 0.9, 0.3, 0.3, 0.6, 0.8, 0.6, 0.3,
  0.1, 1.8, 2.5, 2.2, 0.6, 0.8, 0.9, 0.4,
  0.3, 0.8, 3.5, 1.3, 1.1, 0.9, 0.7, 0.5,
  0.4, 0.3, 0.2, 0.2, 0.3, 0.2, 0.1, 0.1,
  0, 0, 0.1, 0.2, 0.3, 0.5, 0.8, 0.6,
  0.3, 0.2, 0.1, 0, 0, 0, 0, 0,
  0, 0, 0.1, 0.2, 0.6, 4.4, 4.0, 1.5,
  1.0, 0.8, 0.6, 0.4, 0.5, 0.6, 0.4, 0.3];
const PR_P11 = [1.2, 0.8, 0.3, 0.4, 0.7, 1.0, 0.8, 0.3,
  0.1, 3.0, 4.0, 2.5, 0.7, 0.9, 1.5, 0.5,
  0.2, 0.4, 1.0, 0.8, 0.7, 0.6, 0.5, 0.4,
  0.3, 0.2, 0.3, 0.2, 0.1, 0.2, 0.3, 0.2,
  0.1, 0, 0, 0, 0.1, 0.2, 0.6, 0.3,
  0.1, 0, 0, 0, 0, 0, 0, 0,
  0, 0, 0.1, 0.3, 0.5, 1.2, 2.5, 1.0,
  0.6, 0.4, 0.8, 1.5, 2.5, 3.5, 7.6, 2.0];
const PR_P12 = [1.7, 1.2, 0.4, 0.2, 0.3, 0.5, 0.4, 0.2,
  0.1, 3.8, 3.2, 2.4, 0.6, 0.8, 0.6, 0.3,
  0.2, 0.5, 1.2, 1.0, 0.8, 0.6, 0.4, 0.3,
  0.2, 0.1, 0.2, 0.3, 0.2, 0.3, 0.2, 0.1,
  0, 0, 0, 0, 0, 0.1, 0.2, 0.1,
  0, 0, 0, 0, 0, 0, 0, 0,
  0, 0.1, 0.1, 0.2, 0.2, 0.3, 0.4, 0.3,
  0.2, 0.3, 0.4, 0.2, 0.3, 0.2, 0.1, 0.2];
const PR_P13 = [1.5, 1.0, 0.4, 0.5, 0.8, 1.0, 0.6, 0.3,
  0.1, 2.6, 3.3, 2.6, 0.8, 1.2, 1.3, 0.4,
  0.2, 0.6, 1.5, 1.0, 0.9, 0.7, 0.6, 0.4,
  0.3, 0.2, 0.2, 0.3, 0.4, 0.3, 0.2, 0.1,
  0, 0, 0, 0.1, 0.3, 0.6, 0.8, 0.4,
  0.2, 0.1, 0, 0, 0, 0, 0, 0,
  0, 0.1, 0.2, 0.3, 0.4, 0.6, 0.8, 2.5,
  1.5, 0.8, 0.5, 0.4, 0.6, 0.8, 0.5, 0.3];
const PR_P14 = [1.3, 0.7, 0.2, 0.3, 0.6, 0.8, 0.5, 0.2,
  0.1, 2.0, 2.8, 3.5, 0.5, 0.6, 0.8, 0.3,
  0.2, 0.5, 1.8, 1.2, 0.9, 0.7, 0.5, 0.3,
  0.2, 0.2, 0.3, 0.2, 0.1, 0.1, 0.2, 0.1,
  0, 0, 0, 0, 0.1, 0.1, 0.2, 0.1,
  0, 0, 0, 0, 0, 0, 0, 0,
  0, 0.1, 0.2, 0.3, 0.4, 0.5, 0.3, 0.2,
  0.4, 0.3, 0.2, 0.3, 0.4, 0.3, 0.2, 0.1];
const PR_P15 = [1.4, 0.9, 0.3, 0.4, 0.6, 0.9, 0.6, 0.3,
  0.1, 2.4, 3.0, 2.2, 0.6, 1.0, 1.0, 0.4,
  0.3, 0.7, 1.4, 1.1, 0.9, 0.8, 0.6, 0.4,
  0.3, 0.2, 0.2, 0.3, 0.2, 0.2, 0.1, 0.1,
  0, 0, 0, 0.1, 0.1, 0.2, 0.3, 0.2,
  0.1, 0, 0, 0, 0, 0, 0, 0,
  0, 0.1, 0.1, 0.2, 0.3, 0.2, 0.3, 0.2,
  0.1, 0.2, 0.3, 0.2, 0.1, 0.2, 0.1, 0.1];
const PR_P16 = [1.9, 1.4, 0.5, 0.6, 0.9, 1.3, 0.9, 0.4,
  0.1, 3.2, 3.6, 2.8, 0.8, 1.1, 1.2, 0.4,
  0.3, 0.8, 2.0, 3.0, 2.2, 1.5, 1.0, 0.6,
  0.4, 0.3, 0.2, 0.3, 0.3, 0.4, 0.3, 0.2,
  0.1, 0, 0, 0, 0.1, 0.2, 0.5, 0.4,
  0.2, 0.1, 0, 0, 0, 0, 0, 0,
  0, 0.1, 0.2, 0.3, 0.5, 0.6, 0.8, 0.6,
  0.4, 0.5, 0.6, 1.0, 1.5, 0.8, 0.5, 0.4];
const PR_P17 = [1.6, 1.0, 0.4, 0.4, 0.7, 1.0, 0.7, 0.3,
  0.1, 2.7, 3.1, 2.5, 0.7, 1.0, 0.9, 0.3,
  0.2, 0.6, 1.6, 2.8, 1.8, 1.2, 0.8, 0.5,
  0.3, 0.2, 0.3, 0.4, 0.3, 0.3, 0.2, 0.1,
  0, 0, 0, 0, 0.2, 0.3, 0.4, 0.2,
  0.1, 0, 0, 0, 0, 0, 0, 0,
  0, 0.1, 0.1, 0.3, 0.4, 0.5, 0.6, 0.5,
  0.4, 0.6, 1.2, 0.8, 0.6, 0.5, 0.4, 0.3];
const PR_P18 = [1.5, 1.0, 0.3, 0.3, 0.5, 0.7, 0.5, 0.2,
  0.1, 2.3, 2.9, 2.3, 0.6, 0.7, 0.8, 0.3,
  0.2, 0.5, 1.2, 1.0, 0.8, 0.7, 0.5, 0.4,
  0.3, 0.2, 0.2, 0.3, 0.2, 0.2, 0.2, 0.1,
  0, 0, 0, 0.1, 0.2, 0.3, 0.2, 0.1,
  0, 0, 0, 0, 0, 0, 0, 0,
  0, 0.2, 0.6, 1.5, 3.3, 2.5, 1.8, 1.2,
  0.8, 0.6, 0.8, 1.2, 0.8, 0.6, 0.4, 0.3];
const PR_P19 = [1.4, 0.9, 0.3, 0.3, 0.6, 0.8, 0.6, 0.3,
  0.1, 2.5, 3.0, 2.4, 0.6, 0.8, 0.9, 0.3,
  0.2, 0.6, 1.4, 1.2, 1.0, 0.8, 0.6, 0.4,
  0.3, 0.2, 0.3, 0.2, 0.2, 0.3, 0.2, 0.1,
  0, 0, 0, 0, 0.2, 0.3, 0.5, 0.8,
  0.5, 0.8, 0.4, 0.6, 1.0, 0.8, 2.4, 0.8,
  0.3, 0.2, 0.1, 0.1, 0.2, 0.3, 0.5, 0.8,
  0.6, 0.5, 1.5, 2.5, 4.0, 3.3, 2.5, 1.0];
const PR_P20 = [1.7, 1.1, 0.4, 0.4, 0.8, 1.1, 0.7, 0.3,
  0.1, 2.9, 3.4, 2.7, 0.7, 0.9, 1.0, 0.4,
  0.3, 0.7, 1.7, 1.4, 1.1, 0.9, 0.7, 0.5,
  0.4, 0.3, 0.3, 0.4, 0.3, 0.3, 0.2, 0.1,
  0, 0, 0, 0.1, 0.2, 0.4, 0.8, 1.5,
  2.5, 2.8, 3.6, 2.5, 1.2, 0.4, 0.1, 0,
  0, 0.1, 0.2, 0.4, 0.6, 1.5, 2.2, 1.8,
  1.0, 0.8, 1.0, 1.3, 1.2, 0.9, 0.6, 0.4];

const T850_MEMBERS = [T850_P01, T850_P02, T850_P03, T850_P04, T850_P05, T850_P06, T850_P07,
  T850_P08, T850_P09, T850_P10, T850_P11, T850_P12, T850_P13, T850_P14, T850_P15, T850_P16,
  T850_P17, T850_P18, T850_P19, T850_P20];
const T500_MEMBERS = [T500_P01, T500_P02, T500_P03, T500_P04, T500_P05, T500_P06, T500_P07,
  T500_P08, T500_P09, T500_P10, T500_P11, T500_P12, T500_P13, T500_P14, T500_P15, T500_P16,
  T500_P17, T500_P18, T500_P19, T500_P20];
const PR_MEMBERS = [PR_P01, PR_P02, PR_P03, PR_P04, PR_P05, PR_P06, PR_P07, PR_P08, PR_P09,
  PR_P10, PR_P11, PR_P12, PR_P13, PR_P14, PR_P15, PR_P16, PR_P17, PR_P18, PR_P19, PR_P20];

const MONO = '"DejaVu Sans Mono", monospace';
const SANS = '"Liberation Sans", Arial, sans-serif';

export default function App() {
  const ref = useRef<SVGSVGElement>(null);

  useEffect(() => {
    if (!ref.current) return;
    const svg = d3.select(ref.current);
    svg.selectAll('*').remove();

    svg.append('rect').attr('width', W).attr('height', H).attr('fill', '#fff');

    const x = d3.scaleLinear().domain([0, 384]).range([50.5, 690.5]);
    const y = d3.scaleLinear().domain([30, -45]).range([20.5, 545.5]);
    const yMm = d3.scaleLinear().domain([75, 0]).range([20.5, 545.5]);

    // grid
    const grid = svg.append('g').attr('stroke', '#c0c0c0').attr('stroke-width', 1);
    LEFT_TICKS.forEach(v => {
      grid.append('line').attr('x1', x(0)).attr('x2', x(384)).attr('y1', y(v)).attr('y2', y(v));
    });
    DATES.forEach((_, i) => {
      grid.append('line').attr('x1', x(i * 24)).attr('x2', x(i * 24)).attr('y1', 0).attr('y2', 599);
    });
    svg.append('line').attr('x1', x(0) - 0.5).attr('x2', x(384) + 0.5)
      .attr('y1', 599.5).attr('y2', 599.5).attr('stroke', '#000').attr('stroke-width', 1);

    // axis labels
    LEFT_TICKS.forEach(v => {
      svg.append('text').attr('x', 20).attr('y', y(v) + 7).attr('font-family', SANS)
        .attr('font-size', 10.5).attr('fill', '#000').text(String(v));
    });
    RIGHT_TICKS.forEach(v => {
      svg.append('text').attr('x', 709).attr('y', yMm(v) + 7).attr('font-family', SANS)
        .attr('font-size', 10.5).attr('fill', '#000').text(String(v));
    });
    DATES.forEach((d, i) => {
      svg.append('text').attr('transform', `translate(${x(i * 24) + 10},603) rotate(-90)`)
        .attr('text-anchor', 'end').attr('font-family', MONO).attr('font-size', 11)
        .attr('fill', '#000').text(d);
    });
    svg.append('text').attr('x', 20).attr('y', 611).attr('font-family', MONO)
      .attr('font-size', 10.5).text('(°c)');
    svg.append('text').attr('x', 712).attr('y', 611).attr('font-family', MONO)
      .attr('font-size', 10.5).text('(mm)');

    const drawSeries = (vals: number[], startHour: number, toY: (v: number) => number,
      color: string, width: number, marks: boolean, g: d3.Selection<SVGGElement, unknown, null, undefined>) => {
      const line = d3.line<number>()
        .x((_, i) => x(startHour + i * 6))
        .y(d => toY(d));
      g.append('path').attr('d', line(vals) ?? '').attr('fill', 'none')
        .attr('stroke', color).attr('stroke-width', width)
        .attr('stroke-linejoin', 'round').attr('stroke-linecap', 'round');
      if (marks) {
        const p = d3.path();
        vals.forEach((d, i) => {
          const px = x(startHour + i * 6);
          const py = toY(d);
          p.moveTo(px - 1.5, py); p.lineTo(px + 1.5, py);
          p.moveTo(px, py - 1.5); p.lineTo(px, py + 1.5);
        });
        g.append('path').attr('d', p.toString()).attr('fill', 'none')
          .attr('stroke', color).attr('stroke-width', 1);
      }
    };

    const plot = svg.append('g');
    const toT = (v: number) => y(v);
    const toP = (v: number) => yMm(v);

    T850_MEMBERS.forEach((s, k) => drawSeries(s, 0, toT, MEMBER_COLORS[k], 1, true, plot));
    T500_MEMBERS.forEach((s, k) => drawSeries(s, 0, toT, MEMBER_COLORS[k], 1, true, plot));
    PR_MEMBERS.forEach((s, k) => drawSeries(s, 6, toP, MEMBER_COLORS[k], 1, true, plot));

    drawSeries(T850_GFS, 0, toT, '#000', 3, false, plot);
    drawSeries(T500_GFS, 0, toT, '#000', 3, false, plot);
    drawSeries(PR_GFS, 6, toP, '#000', 3, false, plot);
    drawSeries(T850_CTRL, 0, toT, '#0000ff', 3, false, plot);
    drawSeries(T500_CTRL, 0, toT, '#0000ff', 3, false, plot);
    drawSeries(PR_CTRL, 6, toP, '#0000ff', 3, false, plot);
    drawSeries(T850_MEAN, 0, toT, '#ff0000', 4.5, false, plot);
    drawSeries(T500_MEAN, 0, toT, '#ff0000', 4.5, false, plot);
    drawSeries(PR_MEAN, 6, toP, '#ff0000', 4.5, false, plot);

    // panel labels
    const labels: [string, number][] = [['Temp. 850hPa', 235], ['Temp. 500hPa', 362], ['Précipitations', 523]];
    labels.forEach(([t, yy]) => {
      svg.append('text').attr('x', 60).attr('y', yy).attr('font-family', MONO)
        .attr('font-size', 10.5).attr('fill', '#000').text(t);
    });

    // legend
    const lg = svg.append('g').attr('font-family', MONO).attr('font-size', 10).attr('fill', '#000');
    lg.append('rect').attr('x', 35).attr('y', 650).attr('width', 30).attr('height', 4).attr('fill', '#ff0000');
    lg.append('text').attr('x', 75).attr('y', 656).text('Moyenne des scénarios');
    lg.append('rect').attr('x', 226).attr('y', 646).attr('width', 31).attr('height', 3.5).attr('fill', '#0000ff');
    lg.append('rect').attr('x', 226).attr('y', 655.5).attr('width', 31).attr('height', 3.5).attr('fill', '#000');
    lg.append('text').attr('x', 265).attr('y', 651).text('Run de contrôle');
    lg.append('text').attr('x', 265).attr('y', 661).text('Run GFS');
    lg.append('text').attr('x', 371).attr('y', 656).text('20 Perturbations');
    MEMBER_COLORS.forEach((c, k) => {
      const sx = 470 + k * 11.1;
      lg.append('rect').attr('x', sx).attr('y', 649).attr('width', 10).attr('height', 6.5).attr('fill', c);
      lg.append('text').attr('x', sx + 5).attr('y', 645.5).attr('text-anchor', 'middle')
        .attr('font-family', '"DejaVu Sans Condensed", "DejaVu Sans", sans-serif')
        .attr('font-size', 7.5).attr('letter-spacing', -0.4).text(MEMBER_LABELS[k]);
    });

    // caption box
    svg.append('rect').attr('x', 20.5).attr('y', 667.5).attr('width', 421).attr('height', 40)
      .attr('fill', 'none').attr('stroke', '#000').attr('stroke-width', 1.5);
    svg.append('text').attr('x', 30).attr('y', 682).attr('font-family', MONO).attr('font-size', 11.6)
      .attr('font-weight', 'bold').text('Diagramme des ensembles GEFS sur 384h : 51.1N 5.7E');
    svg.append('text').attr('x', 30).attr('y', 695).attr('font-family', MONO).attr('font-size', 10)
      .text('Températures 850hPa et 500hPa (°C) , précipitations (mm)');
    svg.append('text').attr('x', 452).attr('y', 676).attr('font-family', MONO).attr('font-size', 10)
      .text('Ensemble GEFS du 26/03/2008 - 00h');
    svg.append('text').attr('x', 452).attr('y', 697).attr('font-family', MONO).attr('font-size', 11)
      .attr('font-weight', 'bold').text('Copyright 2007 Meteociel.fr');
  }, []);

  return (
    <svg ref={ref} width={W} height={H}
      style={{ position: 'absolute', left: 0, top: 0, display: 'block' }} />
  );
}
